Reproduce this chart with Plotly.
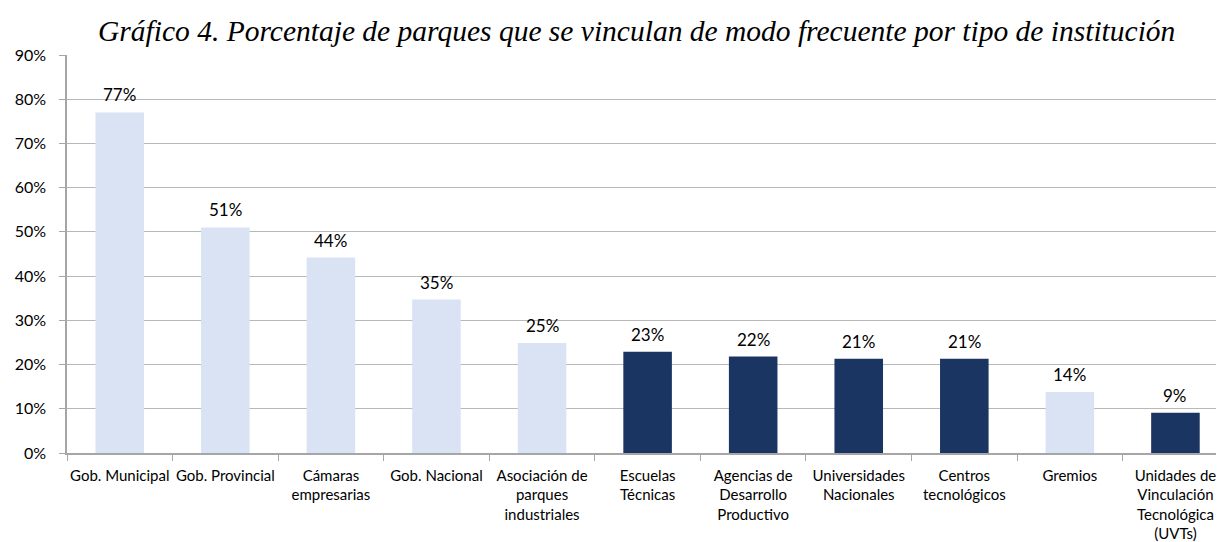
import plotly.graph_objects as go

categories = ["Gob. Municipal", "Gob. Provincial", "Cámaras<br>empresarias", "Gob. Nacional",
              "Asociación de<br>parques<br>industriales", "Escuelas<br>Técnicas",
              "Agencias de<br>Desarrollo<br>Productivo", "Universidades<br>Nacionales",
              "Centros<br>tecnológicos", "Gremios",
              "Unidades de<br>Vinculación<br>Tecnológica<br>(UVTs)"]
values = [77.0, 51.0, 44.2, 34.7, 24.9, 22.9, 21.8, 21.3, 21.3, 13.8, 9.1]
labels = ["77%", "51%", "44%", "35%", "25%", "23%", "22%", "21%", "21%", "14%", "9%"]
is_dark = [False, False, False, False, False, True, True, True, True, False, True]
title = "<i>Gráfico 4. Porcentaje de parques que se vinculan de modo frecuente por tipo de institución</i>"

LIGHT = "#dae3f3"
DARK = "#1b3562"
colors = [DARK if d else LIGHT for d in is_dark]
SANS = "Lato"

fig = go.Figure(go.Bar(
    x=categories, y=values, marker_color=colors, marker_line_width=0,
    width=0.46, hoverinfo="skip"))

for c, v, t in zip(categories, values, labels):
    fig.add_annotation(x=c, y=v, text=t, showarrow=False, yanchor="bottom",
                       yshift=5, font=dict(family=SANS, size=17, color="#000000"))

fig.update_layout(
    width=1216, height=534,
    margin=dict(l=59, r=0, t=47, b=82),
    paper_bgcolor="white", plot_bgcolor="white",
    showlegend=False,
    font=dict(family=SANS),
    title=dict(text=title, x=0.517, xanchor="center", y=0.958, yanchor="middle",
               font=dict(family="'Liberation Serif', 'DejaVu Serif', serif", size=29.5,
                         color="#000000")),
)
fig.update_xaxes(
    type="category", range=[-0.5, 10.46], tickson="boundaries",
    ticks="outside", ticklen=6, tickcolor="#a6a6a6", tickwidth=1,
    showline=True, linecolor="#a6a6a6", linewidth=1.5,
    tickfont=dict(family=SANS, size=15, color="#000000"),
    ticklabelstandoff=8,
    tickangle=0, showgrid=False)
fig.update_yaxes(
    range=[0, 90], tickvals=[0, 10, 20, 30, 40, 50, 60, 70, 80, 90],
    ticktext=["0%", "10%", "20%", "30%", "40%", "50%", "60%", "70%", "80%", "90%"],
    ticks="outside", ticklen=6, tickcolor="#a6a6a6",
    showline=True, linecolor="#a6a6a6", linewidth=1.5,
    showgrid=True, gridcolor="#b8b8b8", gridwidth=1, zeroline=False,
    ticklabelstandoff=10,
    tickfont=dict(family=SANS, size=16, color="#000000"))

fig.write_html("out.html")
